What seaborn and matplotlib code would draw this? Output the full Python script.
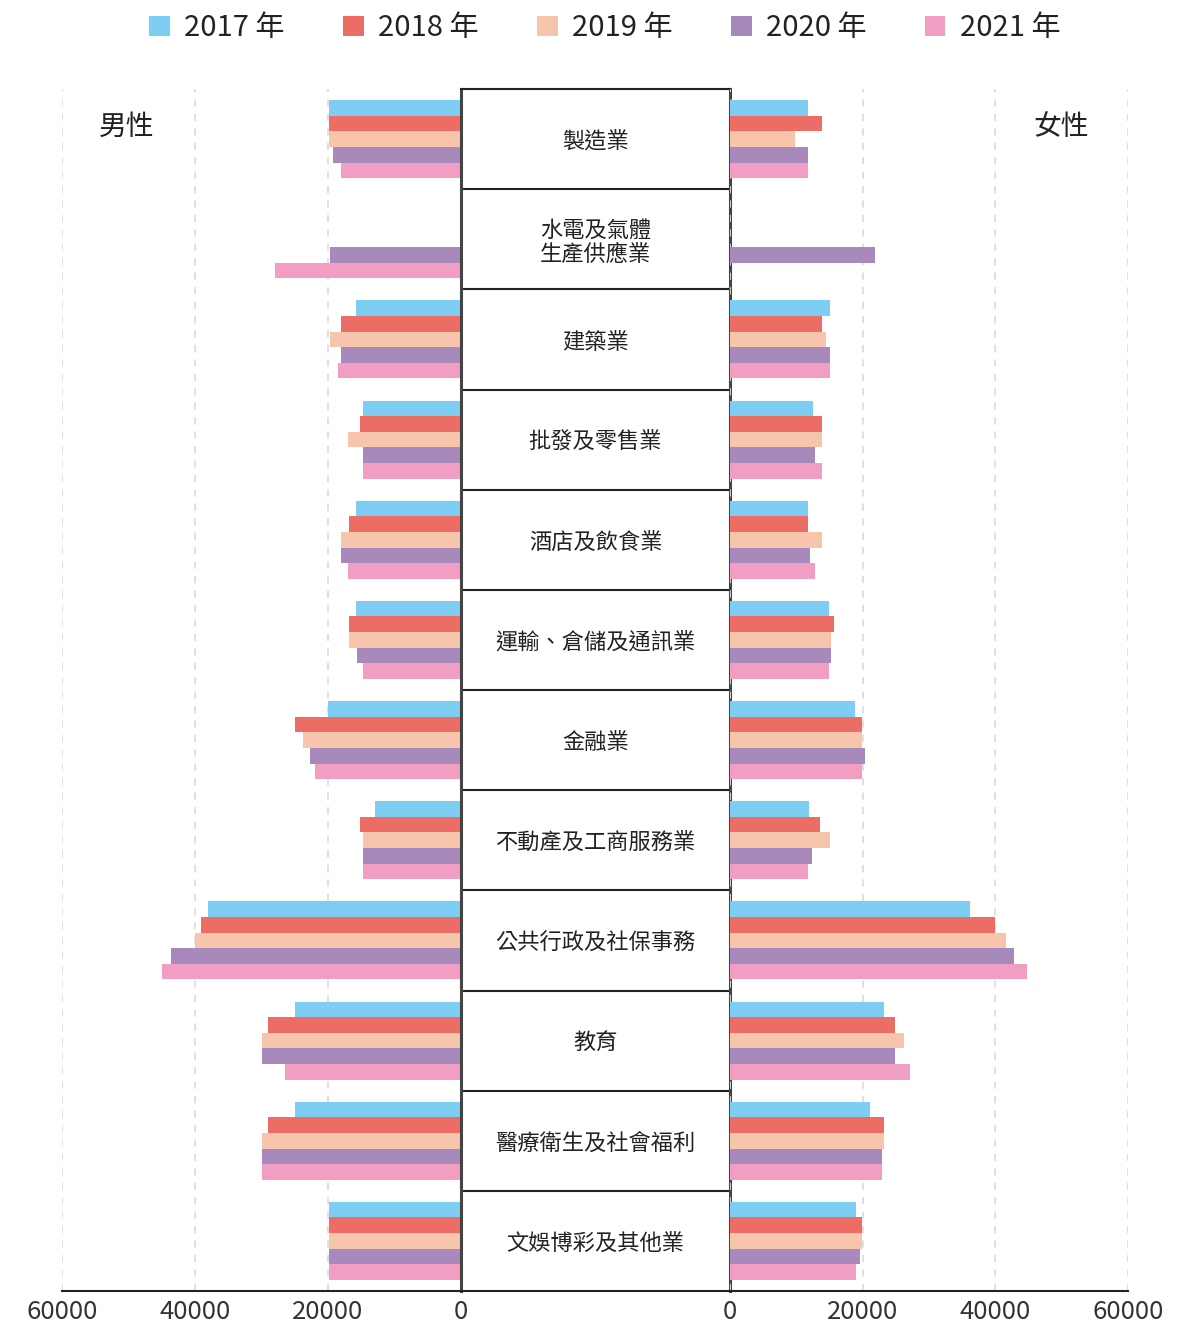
import numpy as np
import pandas as pd
import matplotlib
matplotlib.use("Agg")
import matplotlib.pyplot as plt
from matplotlib.patches import Patch
import seaborn as sns

industries = ["製造業", "水電及氣體\n生產供應業", "建築業", "批發及零售業", "酒店及飲食業",
              "運輸、倉儲及通訊業", "金融業", "不動產及工商服務業", "公共行政及社保事務",
              "教育", "醫療衛生及社會福利", "文娛博彩及其他業"]
years = ["2017 年", "2018 年", "2019 年", "2020 年", "2021 年"]
colors = ["#7ECEF4", "#EC6D66", "#F7C5AC", "#A889BC", "#F19EC2"]

# values per year, one entry per industry (NaN = no bar)
nan = np.nan
male_2017 = [19800, nan, 15800, 14700, 15800, 15800, 20000, 12900, 38000, 25000, 25000, 19800]
male_2018 = [19800, nan, 18000, 15200, 16800, 16800, 25000, 15200, 39100, 29000, 29000, 19800]
male_2019 = [19800, nan, 19700, 17000, 18000, 16800, 23800, 14700, 40000, 29900, 29900, 19800]
male_2020 = [19200, 19700, 18000, 14700, 18000, 15600, 22700, 14700, 43600, 29900, 29900, 19800]
male_2021 = [18000, 28000, 18500, 14700, 17000, 14700, 22000, 14700, 45000, 26500, 29900, 19800]

female_2017 = [11800, nan, 15100, 12500, 11800, 14900, 18900, 11900, 36200, 23200, 21100, 19000]
female_2018 = [13900, nan, 13900, 13900, 11800, 15700, 19900, 13600, 40000, 24900, 23200, 19900]
female_2019 = [9800, nan, 14500, 13900, 13900, 15200, 19900, 15100, 41600, 26200, 23200, 19900]
female_2020 = [11800, 21900, 15100, 12800, 12100, 15200, 20400, 12400, 42800, 24900, 22900, 19600]
female_2021 = [11800, nan, 15100, 13900, 12800, 14900, 19900, 11800, 44800, 27100, 22900, 19000]

male = [male_2017, male_2018, male_2019, male_2020, male_2021]
female = [female_2017, female_2018, female_2019, female_2020, female_2021]

rows = []
for yi, y in enumerate(years):
    for ii, ind in enumerate(industries):
        rows.append({"industry": ind, "year": y, "male": male[yi][ii], "female": female[yi][ii]})
df = pd.DataFrame(rows)

sns.set_theme(style="white")
plt.rcParams["font.family"] = ["Noto Sans CJK TC", "DejaVu Sans"]

W, H = 1180, 1329
fig = plt.figure(figsize=(W / 100, H / 100), dpi=100)

bot = (H - 1291) / H
top = (H - 89) / H
hgt = top - bot
xL0, xL1 = 62 / W, 461 / W
xR0, xR1 = 730 / W, 1128 / W

axL = fig.add_axes([xL0, bot, xL1 - xL0, hgt])
axM = fig.add_axes([xL1, bot, xR0 - xL1, hgt])
axR = fig.add_axes([xR0, bot, xR1 - xR0, hgt])

pal = dict(zip(years, colors))
n = len(industries)

for ax, col in [(axL, "male"), (axR, "female")]:
    sub = df.dropna(subset=[col])
    sns.barplot(data=sub, y="industry", x=col, hue="year", order=industries,
                hue_order=years, palette=pal, orient="h", width=0.78,
                errorbar=None, saturation=1, legend=False, ax=ax, linewidth=0)
    ax.set_ylim(n - 0.5, -0.5)
    ax.set_xticks([0, 20000, 40000, 60000])
    ax.set_xticklabels(["0", "20000", "40000", "60000"])
    ax.set_xlabel("")
    ax.set_ylabel("")
    ax.set_yticks([])
    for s in ["left", "right", "top"]:
        ax.spines[s].set_visible(False)
    ax.spines["bottom"].set_color("#222222")
    ax.spines["bottom"].set_linewidth(1.5)
    ax.tick_params(axis="x", length=0, pad=6, labelsize=18.5, colors="#333333")
    ax.xaxis.grid(True, linestyle=(0, (4, 4)), color="#dddddd", linewidth=1.3)
    ax.set_axisbelow(True)
    ax.set_facecolor("none")
    for lbl in ax.get_xticklabels():
        lbl.set_fontweight("light")

axL.set_xlim(60000, 0)
axR.set_xlim(0, 60000)

# middle label box
axM.set_xlim(0, 1)
axM.set_ylim(n - 0.5, -0.5)
axM.set_xticks([])
axM.set_yticks([])
for s in ["left", "right"]:
    axM.spines[s].set_color("#444444")
    axM.spines[s].set_linewidth(2.2)
for s in ["top", "bottom"]:
    axM.spines[s].set_color("#222222")
    axM.spines[s].set_linewidth(1.5)
for k in range(n - 1):
    axM.axhline(k + 0.5, color="#222222", linewidth=1.5)
for i, ind in enumerate(industries):
    axM.text(0.5, i + 0.03, ind, ha="center", va="center", fontsize=16,
             color="#222222", linespacing=1.1)

fig.text(127 / W, 1 - 127 / H, "男性", ha="center", va="center", fontsize=20, color="#222222")
fig.text(1061 / W, 1 - 127 / H, "女性", ha="center", va="center", fontsize=20, color="#222222")

handles = [Patch(facecolor=c, edgecolor="none", label=y) for y, c in zip(years, colors)]
fig.legend(handles=handles, loc="center", bbox_to_anchor=(0.5 + 15 / W, 1 - 28 / H), ncol=5,
           frameon=False, fontsize=21, handlelength=0.7, handleheight=0.7,
           handletextpad=0.5, columnspacing=2.0, labelcolor="#222222")

fig.savefig("out.png", dpi=100)
